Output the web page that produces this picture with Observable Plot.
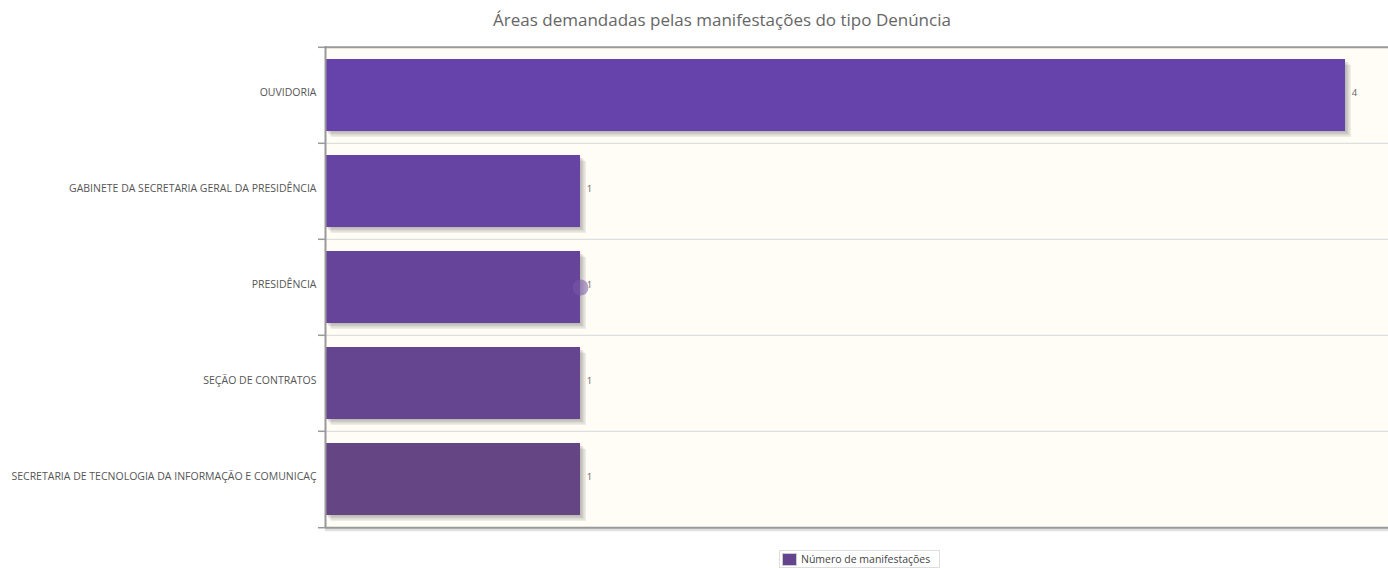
<!DOCTYPE html>
<html><head><meta charset="utf-8">
<script src="https://cdn.jsdelivr.net/npm/d3@7"></script>
<script src="https://cdn.jsdelivr.net/npm/@observablehq/plot@0.6"></script>
<style>
body{margin:0;background:#fff;width:1388px;height:568px;overflow:hidden;position:relative;font-family:"Open Sans",sans-serif;}
#title{position:absolute;top:8px;left:0;width:1444px;text-align:center;font-size:17px;color:#666;}
#chart{position:absolute;top:40px;left:0;}
#legend{position:absolute;top:550px;left:779px;display:flex;align-items:center;border:1px solid #ddd;padding:1px 9px 1px 2px;font-size:10.5px;color:#444;background:#fff;}
#legend .sw{width:13px;height:11px;margin-right:4px;border:1px solid #ccc;}
</style></head><body>
<div id="title">Áreas demandadas pelas manifestações do tipo Denúncia</div>
<div id="chart"></div>
<div id="legend"><span class="sw" id="sw"></span><span>Número de manifestações</span></div>
<script>
const categories = ["OUVIDORIA","GABINETE DA SECRETARIA GERAL DA PRESIDÊNCIA","PRESIDÊNCIA","SEÇÃO DE CONTRATOS","SECRETARIA DE TECNOLOGIA DA INFORMAÇÃO E COMUNICAÇ"];
const values = [4,1,1,1,1];
const barColors = ["#6643aa","#6544a3","#65449a","#654590","#654584"];
const seriesName = "Número de manifestações";
const legendColor = "#65448f";
const highlighted = "PRESIDÊNCIA";

const data = categories.map((c,i)=>({cat:c, value:values[i], color:barColors[i]}));

const W = 1388, H = 500, ML = 325, MT = 6, MB = 12;
const plotW = W - ML;
const pxPerUnit = 255;
const xMax = plotW / pxPerUnit;
const step = (H - MT - MB) / categories.length;
const tickLen = 7 / pxPerUnit;

const shadows = [1.5,3,4.5,6].map(o => Plot.barX(data,{y:"cat",x:"value",fill:"#000",fillOpacity:0.07,dx:o,dy:o}));

const chart = Plot.plot({
  width: W, height: H, marginLeft: ML, marginRight: 0, marginTop: MT, marginBottom: MB,
  style:{background:"transparent", fontFamily:"'Open Sans',sans-serif", fontSize:"10.5px", color:"#555", overflow:"visible"},
  x:{domain:[0,xMax], axis:null},
  y:{domain:categories, paddingInner:0.25, paddingOuter:0.125, label:null},
  marks:[
    Plot.frame({fill:"#fffdf6", stroke:null}),
    Plot.ruleY([categories[categories.length-1]],{dy:step/2+2, x1:0, x2:xMax, stroke:"#000", strokeOpacity:0.12, strokeWidth:3}),
    Plot.ruleY(categories.slice(1),{dy:-step/2, x1:0, x2:xMax, stroke:"#d8d8d8", strokeWidth:1}),
    Plot.ruleY(categories,{dy:-step/2, x1:-tickLen, x2:0, stroke:"#999", strokeWidth:1.5}),
    Plot.ruleY([categories[categories.length-1]],{dy:step/2, x1:-tickLen, x2:0, stroke:"#999", strokeWidth:1.5}),
    ...shadows,
    Plot.barX(data,{y:"cat",x:"value",fill:"color"}),
    Plot.dot(data.filter(d=>d.cat===highlighted),{y:"cat",x:"value",r:8,fill:"#7a5aa8",fillOpacity:0.55}),
    Plot.text(data,{y:"cat",x:"value",text:d=>String(d.value),dx:9,dy:-3,fill:"#666",fontSize:9.5,textAnchor:"middle"}),
    Plot.axisY({tickSize:0, tickPadding:9, dy:-3, fill:"#555", fontSize:10.5}),
    Plot.ruleY([categories[0]],{dy:-step/2, x1:0, x2:xMax, stroke:"#999", strokeWidth:2}),
    Plot.ruleY([categories[categories.length-1]],{dy:step/2, x1:0, x2:xMax, stroke:"#999", strokeWidth:2}),
    Plot.ruleX([0],{stroke:"#999", strokeWidth:2})
  ]
});
document.getElementById("chart").appendChild(chart);
document.getElementById("sw").style.background = legendColor;
</script>
</body></html>
